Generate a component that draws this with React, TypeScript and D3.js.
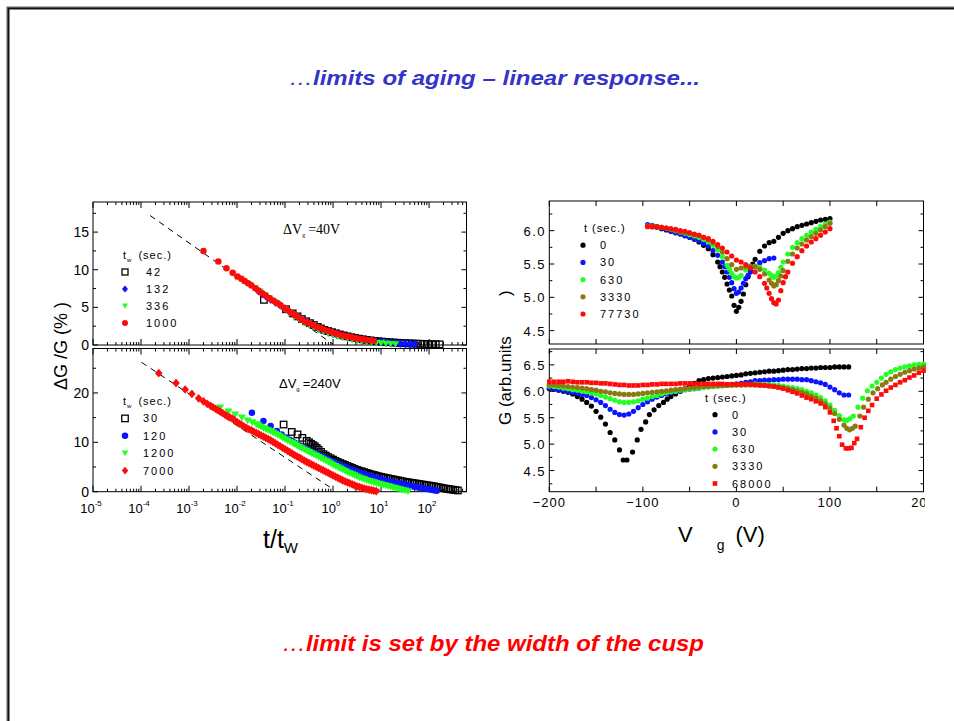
import React from "react";
import * as d3 from "d3";

type P = [number, number];

// ===== Left top panel (ΔVg = 40 V): [log10(t/tw), ΔG/G (%)] =====
const dv40_tw42: P[] = [[-1.44,6.0],[-0.98,4.75],[-0.84,4.2],[-0.74,3.8],[-0.65,3.45],[-0.56,3.15],[-0.48,2.9],[-0.4,2.65],[-0.32,2.4],[-0.25,2.2],[-0.18,2.0],[-0.1,1.85],[-0.02,1.7],[0.06,1.55],[0.14,1.4],[0.22,1.27],[0.3,1.15],[0.38,1.03],[0.46,0.93],[0.54,0.84],[0.62,0.76],[0.7,0.68],[0.78,0.61],[0.86,0.55],[0.94,0.5],[1.02,0.45],[1.1,0.41],[1.18,0.37],[1.26,0.33],[1.34,0.3],[1.42,0.27],[1.5,0.24],[1.58,0.22],[1.66,0.2],[1.74,0.18],[1.82,0.16],[1.9,0.14],[1.98,0.12],[2.06,0.11],[2.14,0.1],[2.22,0.09]];
const dv40_tw132: P[] = [[-1.55,7.15],[-1.47,6.8],[-1.4,6.5],[-1.3,6.05],[-1.2,5.65],[-1.1,5.25],[-1.0,4.8],[-0.9,4.35],[-0.8,3.95],[-0.7,3.55],[-0.6,3.15],[-0.5,2.8],[-0.4,2.5],[-0.3,2.2],[-0.2,1.95],[-0.1,1.72],[0.0,1.5],[0.1,1.32],[0.2,1.15],[0.3,1.0],[0.4,0.88],[0.5,0.77],[0.6,0.67],[0.7,0.58],[0.8,0.5],[0.9,0.43],[1.0,0.37],[1.1,0.32],[1.2,0.27],[1.3,0.23],[1.4,0.19],[1.5,0.15],[1.6,0.12],[1.7,0.1]];
const dv40_tw336: P[] = [[-2.02,9.0],[-1.88,8.5],[-1.74,8.0],[-1.62,7.55],[-1.52,7.1],[-1.42,6.65],[-1.33,6.2],[-1.25,5.85],[-1.17,5.5],[-1.1,5.15],[-1.0,4.7],[-0.9,4.2],[-0.8,3.75],[-0.7,3.35],[-0.6,2.95],[-0.5,2.6],[-0.4,2.3],[-0.3,2.0],[-0.2,1.75],[-0.1,1.5],[0.0,1.3],[0.1,1.1],[0.2,0.95],[0.3,0.8],[0.4,0.68],[0.5,0.57],[0.6,0.47],[0.7,0.4],[0.8,0.33],[0.9,0.27],[1.0,0.22],[1.1,0.18],[1.2,0.14],[1.3,0.1]];
const dv40_tw1000: P[] = [[-2.7,12.5],[-2.39,11.1],[-2.22,10.2],[-2.09,9.6],[-1.99,9.1],[-1.91,8.8],[-1.84,8.5],[-1.77,8.2],[-1.7,7.9],[-1.62,7.55],[-1.55,7.2],[-1.47,6.85],[-1.4,6.55],[-1.32,6.2],[-1.25,5.9],[-1.17,5.6],[-1.1,5.3],[-1.02,4.95],[-0.95,4.65],[-0.87,4.3],[-0.8,4.0],[-0.72,3.7],[-0.65,3.4],[-0.57,3.1],[-0.5,2.9],[-0.42,2.65],[-0.35,2.45],[-0.27,2.25],[-0.2,2.1],[-0.12,1.9],[-0.05,1.75],[0.03,1.6],[0.1,1.45],[0.18,1.3],[0.25,1.2],[0.33,1.1],[0.4,1.0],[0.48,0.9],[0.55,0.82],[0.63,0.75],[0.7,0.68],[0.78,0.62],[0.85,0.56]];
const dv40_fit: P[] = [[-3.81,17.2],[0,0.1]];

// ===== Left bottom panel (ΔVg = 240 V) =====
const dv240_tw30: P[] = [[-1.03,13.6],[-0.86,12.1],[-0.74,11.6],[-0.64,10.9],[-0.55,10.3],[-0.5,10.0],[-0.46,9.7],[-0.42,9.45],[-0.38,9.2],[-0.34,8.85],[-0.3,8.5],[-0.25,8.05],[-0.2,7.6],[-0.15,7.3],[-0.1,7.0],[-0.05,6.75],[0,6.5],[0.05,6.25],[0.1,6.0],[0.15,5.8],[0.2,5.6],[0.25,5.4],[0.3,5.2],[0.35,5.0],[0.4,4.8],[0.45,4.6],[0.5,4.4],[0.55,4.25],[0.6,4.1],[0.65,3.95],[0.7,3.8],[0.75,3.65],[0.8,3.5],[0.85,3.38],[0.9,3.25],[0.95,3.12],[1.0,3.0],[1.05,2.9],[1.1,2.8],[1.15,2.7],[1.2,2.6],[1.25,2.5],[1.3,2.4],[1.35,2.3],[1.4,2.2],[1.45,2.1],[1.5,2.0],[1.55,1.92],[1.6,1.85],[1.65,1.77],[1.7,1.7],[1.75,1.62],[1.8,1.55],[1.85,1.47],[1.9,1.4],[1.95,1.32],[2.0,1.25],[2.05,1.17],[2.1,1.1],[2.15,1.0],[2.2,0.9],[2.25,0.8],[2.3,0.7],[2.35,0.62],[2.4,0.55],[2.45,0.47],[2.5,0.4],[2.55,0.32],[2.6,0.25]];
const dv240_tw120: P[] = [[-1.69,16.0],[-1.45,14.3],[-1.3,13.3],[-1.17,12.3],[-1.07,11.6],[-0.98,11.0],[-0.9,10.5],[-0.85,10.2],[-0.8,9.9],[-0.75,9.65],[-0.7,9.4],[-0.65,9.15],[-0.6,8.9],[-0.55,8.65],[-0.5,8.4],[-0.45,8.15],[-0.4,7.9],[-0.35,7.7],[-0.3,7.5],[-0.25,7.25],[-0.2,7.0],[-0.15,6.75],[-0.1,6.5],[-0.05,6.25],[0,6.0],[0.05,5.8],[0.1,5.6],[0.15,5.4],[0.2,5.2],[0.25,5.0],[0.3,4.8],[0.35,4.6],[0.4,4.4],[0.45,4.25],[0.5,4.1],[0.55,3.9],[0.6,3.7],[0.65,3.55],[0.7,3.4],[0.75,3.25],[0.8,3.1],[0.85,2.95],[0.9,2.8],[0.95,2.65],[1.0,2.5],[1.05,2.35],[1.1,2.2],[1.15,2.1],[1.2,2.0],[1.25,1.9],[1.3,1.8],[1.35,1.7],[1.4,1.6],[1.45,1.5],[1.5,1.4],[1.55,1.3],[1.6,1.2],[1.65,1.1],[1.7,1.0],[1.75,0.92],[1.8,0.85],[1.85,0.75],[1.9,0.65],[1.95,0.57],[2.0,0.5],[2.05,0.4],[2.1,0.3],[2.16,0.2]];
const dv240_tw1200: P[] = [[-2.35,17.0],[-2.18,16.2],[-2.04,15.6],[-1.9,15.0],[-1.78,14.4],[-1.68,14.0],[-1.6,13.6],[-1.55,13.35],[-1.5,13.1],[-1.45,12.85],[-1.4,12.6],[-1.35,12.4],[-1.3,12.2],[-1.25,11.95],[-1.2,11.7],[-1.15,11.45],[-1.1,11.2],[-1.05,10.9],[-1.0,10.6],[-0.95,10.35],[-0.9,10.1],[-0.85,9.85],[-0.8,9.6],[-0.75,9.3],[-0.7,9.0],[-0.65,8.75],[-0.6,8.5],[-0.55,8.25],[-0.5,8.0],[-0.45,7.75],[-0.4,7.5],[-0.35,7.25],[-0.3,7.0],[-0.25,6.75],[-0.2,6.5],[-0.15,6.25],[-0.1,6.0],[-0.05,5.7],[0,5.4],[0.05,5.15],[0.1,4.9],[0.15,4.65],[0.2,4.4],[0.25,4.15],[0.3,3.9],[0.35,3.7],[0.4,3.5],[0.45,3.27],[0.5,3.05],[0.55,2.85],[0.6,2.65],[0.65,2.47],[0.7,2.3],[0.75,2.15],[0.8,2.0],[0.85,1.85],[0.9,1.7],[0.95,1.57],[1.0,1.45],[1.05,1.32],[1.1,1.2],[1.15,1.07],[1.2,0.95],[1.25,0.82],[1.3,0.7],[1.35,0.57],[1.4,0.45],[1.45,0.32],[1.5,0.2],[1.56,0.05]];
const dv240_tw7000: P[] = [[-3.63,24.0],[-3.27,22.0],[-3.08,20.7],[-2.94,19.8],[-2.8,18.9],[-2.7,18.3],[-2.62,17.8],[-2.55,17.4],[-2.5,17.1],[-2.45,16.8],[-2.4,16.5],[-2.35,16.2],[-2.3,15.9],[-2.25,15.6],[-2.2,15.3],[-2.15,15.05],[-2.1,14.8],[-2.05,14.45],[-2.0,14.1],[-1.95,13.8],[-1.9,13.5],[-1.85,13.2],[-1.8,12.9],[-1.75,12.65],[-1.7,12.4],[-1.65,12.15],[-1.6,11.9],[-1.55,11.65],[-1.5,11.4],[-1.45,11.15],[-1.4,10.9],[-1.35,10.65],[-1.3,10.4],[-1.25,10.1],[-1.2,9.8],[-1.15,9.5],[-1.1,9.2],[-1.05,8.9],[-1.0,8.6],[-0.95,8.3],[-0.9,8.0],[-0.85,7.7],[-0.8,7.4],[-0.75,7.15],[-0.7,6.9],[-0.65,6.6],[-0.6,6.3],[-0.55,6.05],[-0.5,5.8],[-0.45,5.55],[-0.4,5.3],[-0.35,5.05],[-0.3,4.8],[-0.25,4.55],[-0.2,4.3],[-0.15,4.05],[-0.1,3.8],[-0.05,3.55],[0,3.3],[0.05,3.05],[0.1,2.8],[0.15,2.55],[0.2,2.3],[0.25,2.1],[0.3,1.9],[0.35,1.7],[0.4,1.5],[0.45,1.3],[0.5,1.1],[0.55,0.95],[0.6,0.8],[0.65,0.65],[0.7,0.5],[0.75,0.4],[0.8,0.3],[0.85,0.2],[0.9,0.1]];
const dv240_fit: P[] = [[-3.99,26.2],[0,0.5]];

// ===== Right top panel: [Vg (V), G (arb. units)] =====
const gTop_t0: P[] = [[-95,6.07],[-90,6.06],[-85,6.05],[-80,6.03],[-75,6.01],[-70,5.99],[-65,5.97],[-60,5.95],[-55,5.93],[-50,5.9],[-45,5.87],[-40,5.83],[-35,5.78],[-30,5.73],[-25,5.64],[-20,5.53],[-17.5,5.46],[-15,5.38],[-12.5,5.3],[-10,5.2],[-7.5,5.11],[-5,5.02],[-2.5,4.88],[0,4.79],[2.5,4.85],[5,4.94],[7.5,5.05],[10,5.19],[12.5,5.31],[15,5.41],[17.5,5.5],[20,5.57],[25,5.69],[30,5.77],[35,5.82],[40,5.84],[45,5.9],[50,5.96],[55,6.0],[60,6.03],[65,6.06],[70,6.08],[75,6.1],[80,6.12],[85,6.14],[90,6.16],[95,6.17],[100,6.18]];
const gTop_t30: P[] = [[-95,6.09],[-90,6.08],[-85,6.06],[-80,6.04],[-75,6.02],[-70,5.99],[-65,5.97],[-60,5.95],[-55,5.92],[-50,5.9],[-45,5.88],[-40,5.85],[-35,5.81],[-30,5.77],[-25,5.7],[-20,5.63],[-15,5.53],[-12.5,5.46],[-10,5.38],[-7.5,5.3],[-5,5.22],[-2.5,5.13],[0,5.06],[2.5,5.08],[5,5.14],[7.5,5.21],[10,5.28],[12.5,5.33],[15,5.38],[20,5.46],[25,5.52],[30,5.55],[35,5.58],[40,5.59]];
const gTop_t630: P[] = [[-95,6.07],[-90,6.07],[-85,6.06],[-80,6.05],[-75,6.04],[-70,6.02],[-65,6.0],[-60,5.98],[-55,5.96],[-50,5.94],[-45,5.92],[-40,5.9],[-35,5.87],[-30,5.83],[-25,5.78],[-20,5.71],[-15,5.61],[-10,5.48],[-7.5,5.42],[-5,5.36],[-2.5,5.31],[0,5.29],[2.5,5.3],[5,5.33],[10,5.41],[15,5.45],[20,5.47],[25,5.45],[30,5.41],[35,5.36],[37.5,5.33],[40,5.3],[42.5,5.32],[45,5.37],[47.5,5.45],[50,5.53],[55,5.65],[60,5.75],[65,5.82],[70,5.88],[75,5.93],[80,5.98],[85,6.02],[90,6.06],[95,6.1],[100,6.13]];
const gTop_t3330: P[] = [[-95,6.07],[-90,6.07],[-85,6.06],[-80,6.05],[-75,6.04],[-70,6.02],[-65,6.0],[-60,5.98],[-55,5.97],[-50,5.96],[-45,5.94],[-40,5.93],[-35,5.9],[-30,5.86],[-25,5.82],[-20,5.76],[-15,5.68],[-10,5.58],[-5,5.49],[0,5.42],[5,5.44],[10,5.46],[15,5.47],[20,5.46],[25,5.42],[30,5.35],[35,5.26],[37.5,5.21],[40,5.17],[42.5,5.19],[45,5.25],[47.5,5.32],[50,5.4],[55,5.54],[60,5.65],[65,5.74],[70,5.8],[75,5.86],[80,5.91],[85,5.96],[90,6.01],[95,6.06],[100,6.11]];
const gTop_t77730: P[] = [[-95,6.06],[-90,6.06],[-85,6.06],[-80,6.05],[-75,6.04],[-70,6.03],[-65,6.02],[-60,6.0],[-55,5.99],[-50,5.97],[-45,5.95],[-40,5.93],[-35,5.9],[-30,5.88],[-25,5.84],[-20,5.79],[-15,5.74],[-10,5.68],[-5,5.62],[0,5.56],[5,5.53],[10,5.49],[15,5.44],[20,5.38],[25,5.31],[30,5.21],[32.5,5.14],[35,5.06],[37.5,4.98],[40,4.92],[42.5,4.9],[45,4.96],[47.5,5.1],[50,5.22],[52.5,5.31],[55,5.38],[60,5.51],[65,5.61],[70,5.7],[75,5.77],[80,5.83],[85,5.88],[90,5.93],[95,5.98],[100,6.03]];

// ===== Right bottom panel =====
const gBot_t0: P[] = [[-200,6.05],[-195,6.04],[-190,6.02],[-185,6.0],[-180,5.98],[-175,5.95],[-170,5.9],[-165,5.85],[-160,5.79],[-155,5.72],[-150,5.62],[-145,5.51],[-140,5.38],[-135,5.22],[-130,5.08],[-125,4.89],[-121,4.7],[-117,4.7],[-111,4.85],[-106,5.08],[-102,5.28],[-97,5.42],[-93,5.56],[-88,5.65],[-83,5.73],[-78,5.79],[-74,5.85],[-70,5.9],[-65,5.95],[-60,6.0],[-55,6.05],[-50,6.1],[-45,6.15],[-40,6.2],[-35,6.22],[-30,6.24],[-25,6.25],[-20,6.26],[-15,6.27],[-10,6.28],[-5,6.29],[0,6.3],[5,6.31],[10,6.33],[15,6.34],[20,6.35],[25,6.36],[30,6.37],[35,6.38],[40,6.38],[45,6.39],[50,6.4],[55,6.41],[60,6.41],[65,6.42],[70,6.43],[75,6.43],[80,6.44],[85,6.44],[90,6.45],[95,6.45],[100,6.45],[105,6.46],[110,6.46],[115,6.46],[120,6.46]];
const gBot_t30: P[] = [[-200,6.06],[-195,6.05],[-190,6.03],[-185,6.01],[-180,5.99],[-175,5.98],[-170,5.96],[-165,5.94],[-160,5.92],[-155,5.88],[-150,5.84],[-145,5.79],[-140,5.73],[-135,5.66],[-130,5.6],[-125,5.56],[-120,5.55],[-115,5.57],[-110,5.62],[-105,5.69],[-100,5.75],[-95,5.8],[-90,5.85],[-85,5.89],[-80,5.92],[-75,5.95],[-70,5.97],[-65,5.99],[-60,6.01],[-55,6.03],[-50,6.04],[-45,6.05],[-40,6.06],[-35,6.08],[-30,6.09],[-25,6.1],[-20,6.11],[-15,6.11],[-10,6.12],[-5,6.13],[0,6.14],[5,6.15],[10,6.17],[15,6.18],[20,6.2],[25,6.2],[30,6.21],[35,6.21],[40,6.22],[45,6.22],[50,6.23],[55,6.23],[60,6.23],[65,6.23],[70,6.22],[75,6.22],[80,6.2],[85,6.18],[90,6.16],[95,6.13],[100,6.08],[105,6.03],[110,5.97],[115,5.93],[120,5.93]];
const gBot_t630: P[] = [[-200,6.1],[-195,6.09],[-190,6.08],[-185,6.06],[-180,6.05],[-175,6.03],[-170,6.02],[-165,6.0],[-160,5.99],[-155,5.97],[-150,5.95],[-145,5.92],[-140,5.89],[-135,5.86],[-130,5.83],[-125,5.8],[-120,5.79],[-115,5.79],[-110,5.8],[-105,5.82],[-100,5.85],[-95,5.87],[-90,5.9],[-85,5.92],[-80,5.95],[-75,5.97],[-70,5.99],[-65,6.0],[-60,6.02],[-55,6.03],[-50,6.04],[-45,6.05],[-40,6.06],[-35,6.07],[-30,6.08],[-25,6.09],[-20,6.1],[-15,6.1],[-10,6.11],[-5,6.11],[0,6.12],[5,6.12],[10,6.13],[15,6.13],[20,6.14],[25,6.13],[30,6.13],[35,6.12],[40,6.12],[45,6.11],[50,6.1],[55,6.08],[60,6.07],[65,6.05],[70,6.03],[75,6.0],[80,5.97],[85,5.93],[90,5.88],[95,5.82],[100,5.74],[105,5.64],[110,5.54],[115,5.46],[118,5.45],[121,5.48],[125,5.53],[130,5.7],[135,5.87],[140,6.01],[145,6.1],[150,6.17],[155,6.25],[160,6.32],[165,6.37],[170,6.41],[175,6.44],[180,6.46],[185,6.48],[190,6.5],[195,6.51],[200,6.52]];
const gBot_t3330: P[] = [[-200,6.12],[-195,6.12],[-190,6.11],[-185,6.1],[-180,6.09],[-175,6.08],[-170,6.07],[-165,6.06],[-160,6.05],[-155,6.03],[-150,6.02],[-145,6.0],[-140,5.99],[-135,5.97],[-130,5.96],[-125,5.95],[-120,5.94],[-115,5.94],[-110,5.94],[-105,5.95],[-100,5.96],[-95,5.97],[-90,5.98],[-85,5.99],[-80,6.0],[-75,6.01],[-70,6.02],[-65,6.03],[-60,6.04],[-55,6.05],[-50,6.06],[-45,6.07],[-40,6.08],[-35,6.09],[-30,6.09],[-25,6.1],[-20,6.1],[-15,6.11],[-10,6.11],[-5,6.12],[0,6.12],[5,6.12],[10,6.12],[15,6.12],[20,6.12],[25,6.11],[30,6.11],[35,6.1],[40,6.09],[45,6.08],[50,6.07],[55,6.05],[60,6.03],[65,6.01],[70,5.98],[75,5.95],[80,5.91],[85,5.87],[90,5.82],[95,5.76],[100,5.68],[105,5.58],[110,5.47],[115,5.36],[118,5.3],[121,5.27],[124,5.3],[127,5.34],[132,5.53],[136,5.7],[141,5.85],[146,5.97],[151,6.05],[156,6.12],[160,6.17],[165,6.23],[170,6.28],[175,6.32],[180,6.36],[185,6.39],[190,6.42],[195,6.44],[200,6.46]];
const gBot_t68000: P[] = [[-200,6.18],[-195,6.18],[-190,6.18],[-185,6.18],[-180,6.19],[-175,6.18],[-170,6.17],[-165,6.17],[-160,6.17],[-155,6.16],[-150,6.16],[-145,6.15],[-140,6.15],[-135,6.14],[-130,6.13],[-125,6.12],[-120,6.12],[-115,6.11],[-110,6.11],[-105,6.11],[-100,6.12],[-95,6.12],[-90,6.13],[-85,6.13],[-80,6.14],[-75,6.14],[-70,6.14],[-65,6.14],[-60,6.15],[-55,6.15],[-50,6.15],[-45,6.14],[-40,6.14],[-35,6.14],[-30,6.14],[-25,6.14],[-20,6.14],[-15,6.14],[-10,6.13],[-5,6.13],[0,6.13],[5,6.13],[10,6.13],[15,6.13],[20,6.12],[25,6.12],[30,6.11],[35,6.1],[40,6.09],[45,6.07],[50,6.05],[55,6.02],[60,5.99],[65,5.96],[70,5.92],[75,5.88],[80,5.85],[85,5.81],[90,5.77],[95,5.7],[100,5.6],[104,5.44],[107,5.3],[110,5.15],[113,4.99],[117,4.92],[120,4.92],[123,4.93],[126,5.02],[129,5.1],[133,5.32],[137,5.5],[141,5.63],[145,5.74],[150,5.86],[155,5.94],[160,6.01],[165,6.07],[170,6.12],[175,6.17],[180,6.21],[185,6.26],[190,6.3],[195,6.35],[200,6.39]];

// ===== labels =====
const legend40 = ["42", "132", "336", "1000"];
const legend240 = ["30", "120", "1200", "7000"];
const legendTop = ["0", "30", "630", "3330", "77730"];
const legendBot = ["0", "30", "630", "3330", "68000"];
const yTicksTopL = [0, 5, 10, 15];
const yTicksBotL = [0, 10, 20];
const yTicksTopR = [4.5, 5.0, 5.5, 6.0];
const yTicksBotR = [4.5, 5.0, 5.5, 6.0, 6.5];
const xTicksR = [-200, -100, 0, 100, 200];
const xTickLabelsR = ["\u2212200", "\u2212100", "0", "100", "200"];
const titleText = "limits of aging \u2013 linear response...";
const footText = "limit is set by the width of the cusp";

const C = { k: "#000000", b: "#0a14ff", g: "#22ff22", o: "#8a7a12", r: "#ff0a0a" };
const FONT = "'Liberation Sans', Arial, sans-serif";

// ===== scales =====
const xLog = d3.scaleLog().domain([1e-5, Math.pow(10, 2.78)]).range([93, 466.5]);
const yTL = d3.scaleLinear().domain([0, 19]).range([345, 202]);
const yBL = d3.scaleLinear().domain([0, 29]).range([491.7, 348.5]);
const xV = d3.scaleLinear().domain([-200, 200]).range([549.3, 923.5]);
const yTR = d3.scaleLinear().domain([4.3, 6.445]).range([344, 201]);
const yBR = d3.scaleLinear().domain([4.1, 6.8]).range([491.7, 349]);

type Shape = "sqOpen" | "sq" | "circle" | "diamond" | "triDown";

function Marker({ shape, x, y, c, s }: { shape: Shape; x: number; y: number; c: string; s: number }) {
  const h = s / 2;
  switch (shape) {
    case "sqOpen":
      return <rect x={x - h} y={y - h} width={s} height={s} fill="none" stroke={c} strokeWidth={1.3} />;
    case "sq":
      return <rect x={x - h} y={y - h} width={s} height={s} fill={c} />;
    case "circle":
      return <circle cx={x} cy={y} r={h} fill={c} />;
    case "diamond":
      return <path d={`M${x},${y - h - 0.6}L${x + h},${y}L${x},${y + h + 0.6}L${x - h},${y}Z`} fill={c} />;
    case "triDown":
      return <path d={`M${x - h},${y - s * 0.4}L${x + h},${y - s * 0.4}L${x},${y + s * 0.45}Z`} fill={c} />;
  }
  return null;
}

type Series = { data: P[]; shape: Shape; c: string; s: number };

function Points({ series, xs, ys, logx }: { series: Series[]; xs: any; ys: any; logx?: boolean }) {
  return (
    <g>
      {series.map((se, i) => (
        <g key={i}>
          {se.data.map((d, j) => (
            <Marker key={j} shape={se.shape} c={se.c} s={se.s} x={xs(logx ? Math.pow(10, d[0]) : d[0])} y={ys(d[1])} />
          ))}
        </g>
      ))}
    </g>
  );
}

function LogXTicks({ y0, y1 }: { y0: number; y1: number }) {
  const [d0, d1] = xLog.domain();
  const majors: number[] = [];
  const minors: number[] = [];
  for (let k = -5; k <= 2; k++) {
    majors.push(Math.pow(10, k));
    for (let m = 2; m <= 9; m++) {
      const v = m * Math.pow(10, k);
      if (v >= d0 && v <= d1) minors.push(v);
    }
  }
  return (
    <g stroke="#000" strokeWidth={1}>
      {majors.map((v, i) => (
        <g key={"M" + i}>
          <line x1={xLog(v)} x2={xLog(v)} y1={y0} y2={y0 - 6} />
          <line x1={xLog(v)} x2={xLog(v)} y1={y1} y2={y1 + 6} />
        </g>
      ))}
      {minors.map((v, i) => (
        <g key={"m" + i}>
          <line x1={xLog(v)} x2={xLog(v)} y1={y0} y2={y0 - 3} />
          <line x1={xLog(v)} x2={xLog(v)} y1={y1} y2={y1 + 3} />
        </g>
      ))}
    </g>
  );
}

function YTicks({ ys, x0, x1, step, minor }: { ys: any; x0: number; x1: number; step: number; minor: number }) {
  const [a, b] = ys.domain();
  const out: any[] = [];
  const start = Math.ceil(a / minor - 1e-9);
  const end = Math.floor(b / minor + 1e-9);
  for (let i = start; i <= end; i++) {
    const v = i * minor;
    const isMajor = Math.abs(v / step - Math.round(v / step)) < 1e-6;
    const L = isMajor ? 5 : 3;
    const y = ys(v);
    out.push(<line key={"l" + i} x1={x0} x2={x0 + L} y1={y} y2={y} />);
    out.push(<line key={"r" + i} x1={x1} x2={x1 - L} y1={y} y2={y} />);
  }
  return <g stroke="#000" strokeWidth={1}>{out}</g>;
}

function VTicks({ y0, y1 }: { y0: number; y1: number }) {
  const ticks = d3.range(-200, 201, 50);
  return (
    <g stroke="#000" strokeWidth={1}>
      {ticks.map((v) => (
        <g key={v}>
          <line x1={xV(v)} x2={xV(v)} y1={y0} y2={y0 - 5} />
          <line x1={xV(v)} x2={xV(v)} y1={y1} y2={y1 + 5} />
        </g>
      ))}
    </g>
  );
}

function Legend({ x, y, header, labels, series, dy, lx, sub }: any) {
  return (
    <g fontFamily={FONT} fontSize={11} fill="#000">
      {sub ? (
        <text x={x} y={y + 4} letterSpacing={1}>
          t<tspan fontSize={6} dy={3}>w</tspan>
          <tspan dy={-3} dx={6}>(sec.)</tspan>
        </text>
      ) : (
        <text x={x} y={y + 4} letterSpacing={1}>{header}</text>
      )}
      {labels.map((l: string, i: number) => (
        <g key={i}>
          <Marker shape={series[i].shape} c={series[i].c} s={series[i].ls} x={series[i].mx} y={y + dy * (i + 1)} />
          <text x={lx} y={y + dy * (i + 1) + 4} letterSpacing={2}>{l}</text>
        </g>
      ))}
    </g>
  );
}

export default function App() {
  const sTL: Series[] = [
    { data: dv40_tw42, shape: "sqOpen", c: C.k, s: 6.5 },
    { data: dv40_tw132, shape: "diamond", c: C.b, s: 7.5 },
    { data: dv40_tw336, shape: "triDown", c: C.g, s: 7.5 },
    { data: dv40_tw1000, shape: "circle", c: C.r, s: 6.5 },
  ];
  const sBL: Series[] = [
    { data: dv240_tw30, shape: "sqOpen", c: C.k, s: 6.5 },
    { data: dv240_tw120, shape: "circle", c: C.b, s: 6.5 },
    { data: dv240_tw1200, shape: "triDown", c: C.g, s: 8 },
    { data: dv240_tw7000, shape: "diamond", c: C.r, s: 7.5 },
  ];
  const sTR: Series[] = [
    { data: gTop_t0, shape: "circle", c: C.k, s: 5.2 },
    { data: gTop_t30, shape: "circle", c: C.b, s: 5.2 },
    { data: gTop_t630, shape: "circle", c: C.g, s: 5.2 },
    { data: gTop_t3330, shape: "circle", c: C.o, s: 5.2 },
    { data: gTop_t77730, shape: "circle", c: C.r, s: 5.2 },
  ];
  const sBR: Series[] = [
    { data: gBot_t0, shape: "circle", c: C.k, s: 5.2 },
    { data: gBot_t30, shape: "circle", c: C.b, s: 5.2 },
    { data: gBot_t630, shape: "circle", c: C.g, s: 5.2 },
    { data: gBot_t3330, shape: "circle", c: C.o, s: 5.2 },
    { data: gBot_t68000, shape: "sq", c: C.r, s: 4.6 },
  ];
  const line = (xs: any, ys: any) =>
    d3.line<P>().x((d) => xs(Math.pow(10, d[0]))).y((d) => ys(d[1]));

  const majorsX = d3.range(-5, 3).map((k) => Math.pow(10, k));

  return (
    <svg width={954} height={721} style={{ position: "absolute", left: 0, top: 0, background: "#fff" }}>
      <defs>
        <clipPath id="clipR">
          <rect x={0} y={0} width={925} height={721} />
        </clipPath>
      </defs>
      <rect x={0} y={0} width={954} height={721} fill="#fff" />
      <rect x={8} y={8} width={980} height={740} fill="none" stroke="#666" strokeWidth={3} />
      <rect x={8.5} y={8.5} width={980} height={740} fill="none" stroke="#111" strokeWidth={1.5} />

      {/* title */}
      <text x={289} y={85} fontFamily={FONT} fontSize={21} fill="#3434c8" fontStyle="italic"
        textLength={411} lengthAdjust="spacingAndGlyphs">
        <tspan fontWeight="normal">{"\u2026"}</tspan>
        <tspan fontWeight="bold">{titleText}</tspan>
      </text>
      <text x={282} y={651} fontFamily={FONT} fontSize={22.5} fill="#ff0000" fontStyle="italic"
        textLength={422} lengthAdjust="spacingAndGlyphs">
        <tspan fontWeight="normal">{"\u2026"}</tspan>
        <tspan fontWeight="bold">{footText}</tspan>
      </text>

      {/* ===== Left panels ===== */}
      <g>
        <rect x={93} y={202} width={373.5} height={143} fill="none" stroke="#000" />
        <rect x={93} y={348.5} width={373.5} height={143.2} fill="none" stroke="#000" />
        <LogXTicks y0={345} y1={202} />
        <LogXTicks y0={491.7} y1={348.5} />
        <YTicks ys={yTL} x0={93} x1={466.5} step={5} minor={2.5} />
        <YTicks ys={yBL} x0={93} x1={466.5} step={10} minor={5} />
        <g fontFamily={FONT} fontSize={14} textAnchor="end">
          {yTicksTopL.map((v) => (
            <text key={v} x={89} y={yTL(v) + 5}>{v}</text>
          ))}
          {yTicksBotL.map((v) => (
            <text key={v} x={89} y={yBL(v) + 5}>{v}</text>
          ))}
        </g>
        <g fontFamily={FONT} fontSize={13}>
          {majorsX.map((v) => (
            <text key={v} x={xLog(v) - 2} y={513} textAnchor="middle">
              10<tspan fontSize={8} dy={-7}>{Math.round(Math.log10(v))}</tspan>
            </text>
          ))}
        </g>
        <path d={line(xLog, yTL)(dv40_fit) || ""} stroke="#000" strokeWidth={1} strokeDasharray="6,5" fill="none" />
        <path d={line(xLog, yBL)(dv240_fit) || ""} stroke="#000" strokeWidth={1} strokeDasharray="6,5" fill="none" />
        <Points series={sTL} xs={xLog} ys={yTL} logx />
        <Points series={sBL} xs={xLog} ys={yBL} logx />

        <text x={283} y={234} fontFamily="'Liberation Serif', serif" fontSize={14}>
          {"\u0394V"}<tspan fontSize={6} dy={3}>g</tspan><tspan dy={-3} dx={3}>=40V</tspan>
        </text>
        <text x={279} y={388} fontFamily={FONT} fontSize={13}>
          {"\u0394V"}<tspan fontSize={6} dy={3}>g</tspan><tspan dy={-3} dx={3}>=240V</tspan>
        </text>

        <Legend x={123} y={255} sub labels={legend40} dy={17} lx={146}
          series={sTL.map((s) => ({ ...s, mx: 125, ls: 6 }))} />
        <Legend x={123} y={401} sub labels={legend240} dy={17.4} lx={143}
          series={sBL.map((s) => ({ ...s, mx: 125, ls: 6.5 }))} />

        <text transform="translate(67,390) rotate(-90)" fontFamily={FONT} fontSize={18}>
          {"\u0394G /G (% )"}
        </text>
        <text x={263} y={548} fontFamily={FONT} fontSize={25}>
          t/t<tspan fontSize={15} dy={5}>W</tspan>
        </text>
      </g>

      {/* ===== Right panels ===== */}
      <g>
        <rect x={549.3} y={201} width={374.2} height={143} fill="none" stroke="#000" />
        <rect x={549.3} y={349} width={374.2} height={142.7} fill="none" stroke="#000" />
        <VTicks y0={344} y1={201} />
        <VTicks y0={491.7} y1={349} />
        <YTicks ys={yTR} x0={549.3} x1={923.5} step={0.5} minor={0.25} />
        <YTicks ys={yBR} x0={549.3} x1={923.5} step={0.5} minor={0.25} />
        <g fontFamily={FONT} fontSize={13} textAnchor="end" letterSpacing={1.5}>
          {yTicksTopR.map((v) => (
            <text key={v} x={546} y={yTR(v) + 5}>{v.toFixed(1)}</text>
          ))}
          {yTicksBotR.map((v) => (
            <text key={v} x={546} y={yBR(v) + 5}>{v.toFixed(1)}</text>
          ))}
        </g>
        <g fontFamily={FONT} fontSize={13} textAnchor="middle" letterSpacing={1} clipPath="url(#clipR)">
          {xTicksR.map((v, i) => (
            <text key={v} x={xV(v)} y={507}>{xTickLabelsR[i]}</text>
          ))}
        </g>
        <Points series={sTR} xs={xV} ys={yTR} />
        <Points series={sBR} xs={xV} ys={yBR} />

        <Legend x={584} y={228} header="t (sec.)" labels={legendTop} dy={17.2} lx={600}
          series={sTR.map((s) => ({ ...s, mx: 583, ls: s.s }))} />
        <Legend x={705} y={397.5} header="t (sec.)" labels={legendBot} dy={17.2} lx={732}
          series={sBR.map((s) => ({ ...s, mx: 715, ls: s.s }))} />

        <text transform="translate(511,425) rotate(-90)" fontFamily={FONT} fontSize={17}>
          G (arb.units
        </text>
        <text transform="translate(511,296) rotate(-90)" fontFamily={FONT} fontSize={17}>
          )
        </text>
        <text x={678} y={542} fontFamily={FONT} fontSize={22}>
          V<tspan fontSize={14} dx={24} dy={8}>g</tspan>
          <tspan dy={-8} dx={11}>(V)</tspan>
        </text>
      </g>
    </svg>
  );
}
